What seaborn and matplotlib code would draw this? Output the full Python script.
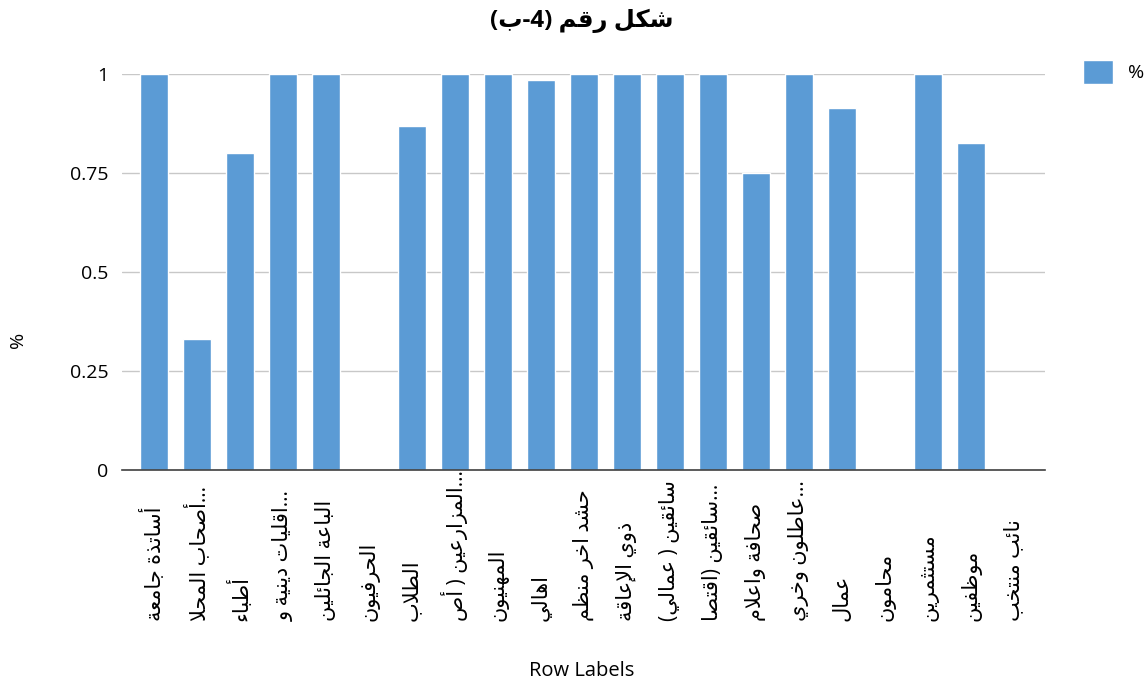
import seaborn as sns
import matplotlib.pyplot as plt
from matplotlib.patches import Patch

# Data
labels = ["أساتذة جامعة", "أصحاب المحلا...", "أطباء", "اقليات دينية و...",
          "الباعة الجائلين", "الحرفيون", "الطلاب", "المزارعين ( أص...",
          "المهنيون", "اهالي", "حشد اخر منظم", "ذوي الإعاقة",
          "سائقين ( عمالي)", "سائقين (اقتصا...", "صحافة واعلام",
          "عاطلون وخري...", "عمال", "محامون", "مستثمرين", "موظفين",
          "نائب منتخب"]
values = [1, 0.33, 0.80, 1, 1, 0, 0.87, 1, 1, 0.985, 1, 1, 1, 1, 0.75,
          1, 0.915, 0, 1, 0.825, 0]
title = "شكل رقم (4-ب)"
series_name = "%"

# Minimal Arabic shaping (matplotlib has no text shaping / bidi)
FORMS = {  # iso, fin, ini, med
    'ء': (0xFE80, None, None, None),
    'آ': (0xFE81, 0xFE82, None, None),
    'أ': (0xFE83, 0xFE84, None, None),
    'ؤ': (0xFE85, 0xFE86, None, None),
    'إ': (0xFE87, 0xFE88, None, None),
    'ئ': (0xFE89, 0xFE8A, 0xFE8B, 0xFE8C),
    'ا': (0xFE8D, 0xFE8E, None, None),
    'ب': (0xFE8F, 0xFE90, 0xFE91, 0xFE92),
    'ة': (0xFE93, 0xFE94, None, None),
    'ت': (0xFE95, 0xFE96, 0xFE97, 0xFE98),
    'ث': (0xFE99, 0xFE9A, 0xFE9B, 0xFE9C),
    'ج': (0xFE9D, 0xFE9E, 0xFE9F, 0xFEA0),
    'ح': (0xFEA1, 0xFEA2, 0xFEA3, 0xFEA4),
    'خ': (0xFEA5, 0xFEA6, 0xFEA7, 0xFEA8),
    'د': (0xFEA9, 0xFEAA, None, None),
    'ذ': (0xFEAB, 0xFEAC, None, None),
    'ر': (0xFEAD, 0xFEAE, None, None),
    'ز': (0xFEAF, 0xFEB0, None, None),
    'س': (0xFEB1, 0xFEB2, 0xFEB3, 0xFEB4),
    'ش': (0xFEB5, 0xFEB6, 0xFEB7, 0xFEB8),
    'ص': (0xFEB9, 0xFEBA, 0xFEBB, 0xFEBC),
    'ض': (0xFEBD, 0xFEBE, 0xFEBF, 0xFEC0),
    'ط': (0xFEC1, 0xFEC2, 0xFEC3, 0xFEC4),
    'ظ': (0xFEC5, 0xFEC6, 0xFEC7, 0xFEC8),
    'ع': (0xFEC9, 0xFECA, 0xFECB, 0xFECC),
    'غ': (0xFECD, 0xFECE, 0xFECF, 0xFED0),
    'ف': (0xFED1, 0xFED2, 0xFED3, 0xFED4),
    'ق': (0xFED5, 0xFED6, 0xFED7, 0xFED8),
    'ك': (0xFED9, 0xFEDA, 0xFEDB, 0xFEDC),
    'ل': (0xFEDD, 0xFEDE, 0xFEDF, 0xFEE0),
    'م': (0xFEE1, 0xFEE2, 0xFEE3, 0xFEE4),
    'ن': (0xFEE5, 0xFEE6, 0xFEE7, 0xFEE8),
    'ه': (0xFEE9, 0xFEEA, 0xFEEB, 0xFEEC),
    'و': (0xFEED, 0xFEEE, None, None),
    'ى': (0xFEEF, 0xFEF0, None, None),
    'ي': (0xFEF1, 0xFEF2, 0xFEF3, 0xFEF4),
}
LAM_ALEF = {'آ': (0xFEF5, 0xFEF6), 'أ': (0xFEF7, 0xFEF8),
            'إ': (0xFEF9, 0xFEFA), 'ا': (0xFEFB, 0xFEFC)}


def joins_next(c):
    return c in FORMS and FORMS[c][2] is not None


def joins_prev(c):
    return c in FORMS and FORMS[c][1] is not None


def shape(text):
    out = []
    i = 0
    n = len(text)
    while i < n:
        c = text[i]
        prev = text[i - 1] if i > 0 else ''
        if c not in FORMS:
            out.append(c)
            i += 1
            continue
        pj = joins_next(prev) and joins_prev(c)
        if c == 'ل' and i + 1 < n and text[i + 1] in LAM_ALEF:
            iso, fin = LAM_ALEF[text[i + 1]]
            out.append(chr(fin if pj else iso))
            i += 2
            continue
        nxt = text[i + 1] if i + 1 < n else ''
        nj = joins_next(c) and joins_prev(nxt)
        iso, fin, ini, med = FORMS[c]
        if pj and nj:
            g = med
        elif pj:
            g = fin
        elif nj:
            g = ini
        else:
            g = iso
        out.append(chr(g))
        i += 1
    return ''.join(out)


def visual(text):
    suffix = ''
    if text.endswith('...'):
        text, suffix = text[:-3], '...'
    s = shape(text)[::-1]
    s = s.translate(str.maketrans('()', ')('))
    return s + suffix


sns.set_style("whitegrid")
plt.rcParams['font.family'] = ['Open Sans', 'DejaVu Sans']
plt.rcParams['text.color'] = 'black'
plt.rcParams['xtick.color'] = 'black'
plt.rcParams['ytick.color'] = 'black'

fig = plt.figure(figsize=(11.46, 6.86), dpi=100)
ax = fig.add_axes([0.1065, 0.315, 0.805, 0.577])

bar_color = "#5B9BD5"
sns.barplot(x=[visual(l) for l in labels], y=values, color=bar_color,
            saturation=1, width=0.65, ax=ax)

ax.set_xlim(-0.74, 20.72)
ax.set_ylim(0, 1)
ax.set_yticks([0, 0.25, 0.5, 0.75, 1])
ax.set_yticklabels(["0", "0.25", "0.5", "0.75", "1"], fontsize=14)
# labels are bottom-aligned on a common baseline below the axis (Excel style)
ax.tick_params(axis='x', labelrotation=90, labelsize=15, length=0, pad=109)
for lab in ax.get_xticklabels():
    lab.set_verticalalignment('bottom')
ax.tick_params(axis='y', length=0, pad=10)
ax.grid(axis='x', visible=False)
ax.grid(axis='y', color="#c8c8c8", linewidth=1)
for side in ['top', 'right', 'left']:
    ax.spines[side].set_visible(False)
ax.spines['bottom'].set_color("#404040")
ax.spines['bottom'].set_linewidth(1.2)

ax.set_xlabel("")
ax.set_ylabel("")
fig.text(0.508, 0.007, "Row Labels", ha='center', va='bottom', fontsize=14.5)
fig.text(0.016, 0.505, "%", rotation=90, ha='center', va='center', fontsize=14)

fig.text(0.508, 0.97, visual(title), ha='center', va='center',
         fontsize=17.5, fontweight='bold')

fig.legend(handles=[Patch(facecolor=bar_color, label=series_name)],
           loc='upper left', bbox_to_anchor=(0.942, 0.918), frameon=False,
           fontsize=14, handlelength=1.5, handleheight=1.5, handletextpad=0.8,
           borderaxespad=0, borderpad=0.2)

fig.savefig("out.png", dpi=100)
